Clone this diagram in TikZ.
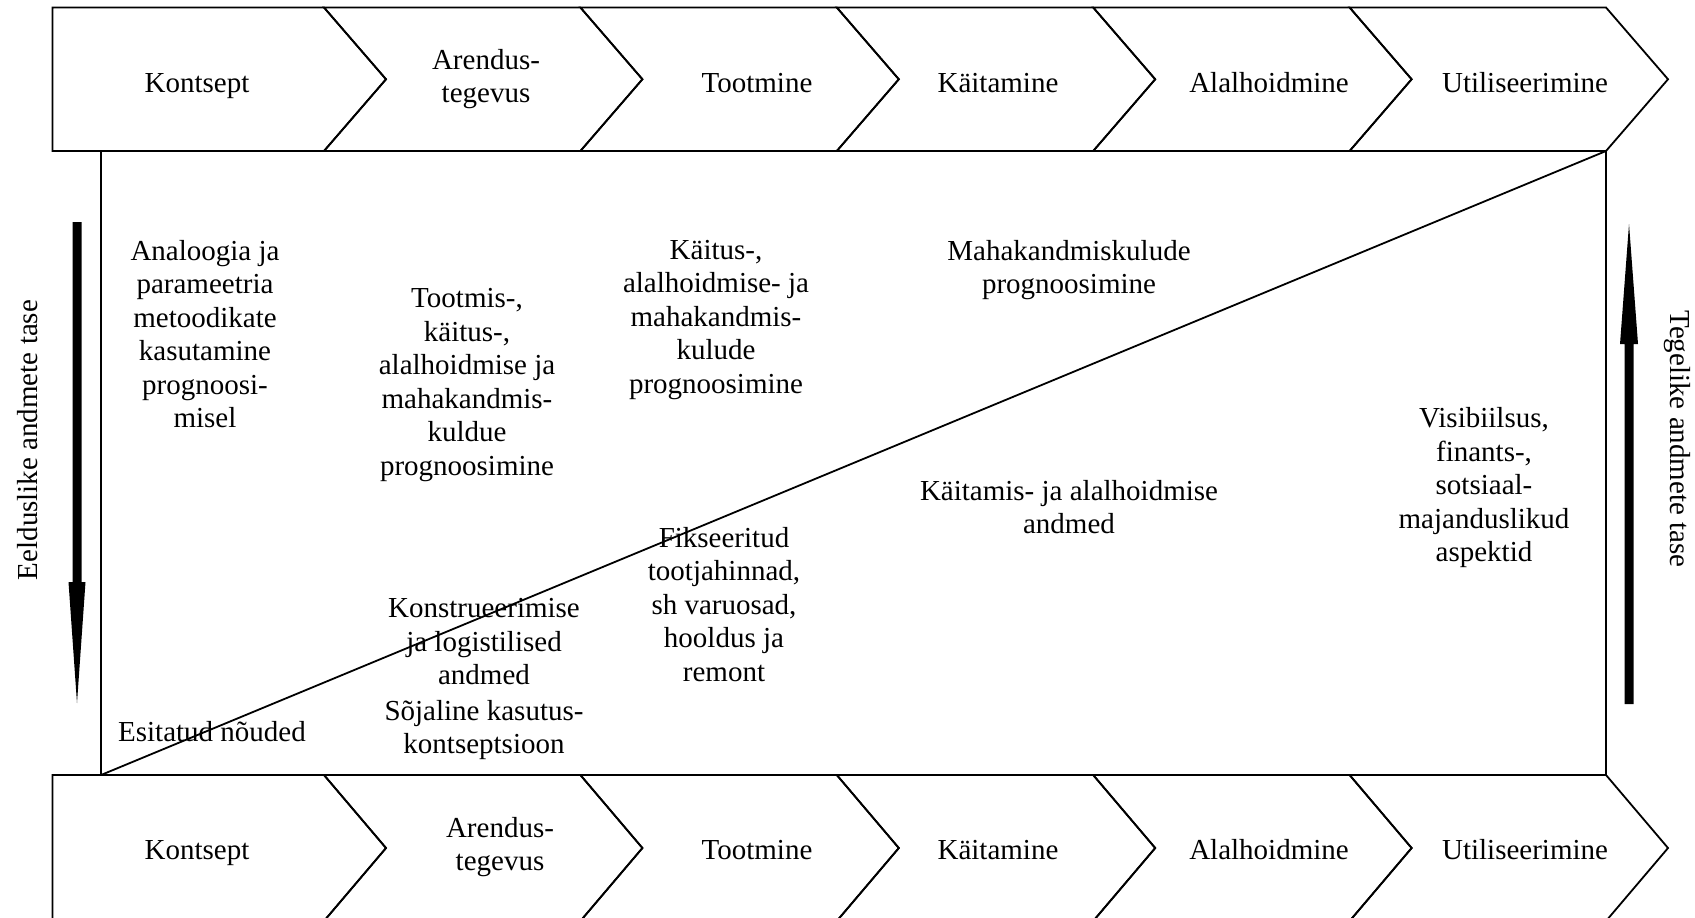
\documentclass[tikz,border=0pt]{standalone}
\usepackage{fontspec}
\setmainfont{Liberation Serif}
\begin{document}
\begin{tikzpicture}[x=0.5pt,y=-0.5pt,
  line width=0.9pt,
  txtfont/.style={font=\fontsize{14.5pt}{16.75pt}\selectfont},
  % text block placed by the baseline of its first line
  lbl/.style={txtfont, anchor=north, inner sep=0pt, align=center,
    yshift=11.725pt, execute at begin node=\strut},
  sidelbl/.style={txtfont, inner sep=0pt},
  fatarrow/.style={fill=black, draw=none}]

\useasboundingbox (0,0) rectangle (1695,917);
\clip (0,0) rectangle (1695,917);
\fill[white] (0,0) rectangle (1695,917);

% ---- phase chevrons, top and bottom rows ----
\foreach \T/\B in {7.5/151, 775/921}{
  \pgfmathsetmacro\M{(\T+\B)/2}
  \draw[line join=miter] (52.5,\T) -- (324,\T) -- (386,\M) -- (324,\B) -- (52.5,\B) -- cycle;
  \foreach \l/\r in {324/580.4, 580.4/836.8, 836.8/1093.2, 1093.2/1349.6, 1349.6/1606}
    \draw (\l,\T) -- (\r,\T) -- (\r+62,\M) -- (\r,\B) -- (\l,\B) -- (\l+62,\M) -- cycle;
}

% top row labels
\node[lbl] (t1) at (197,91.5) {Kontsept};
\node[lbl] (t2) at (486,71.5) {Arendus-\\tegevus};
\node[lbl] (t3) at (757,91.5) {Tootmine};
\node[lbl] (t4) at (998,91.5) {Käitamine};
\node[lbl] (t5) at (1269,91.5) {Alalhoidmine};
\node[lbl] (t6) at (1525,91.5) {Utiliseerimine};

% bottom row labels
\node[lbl] (b1) at (197,858.5) {Kontsept};
\node[lbl] (b2) at (500,839.5) {Arendus-\\tegevus};
\node[lbl] (b3) at (757,858.5) {Tootmine};
\node[lbl] (b4) at (998,858.5) {Käitamine};
\node[lbl] (b5) at (1269,858.5) {Alalhoidmine};
\node[lbl] (b6) at (1525,858.5) {Utiliseerimine};

% ---- central frame with diagonal ----
\coordinate (fsw) at (101,775);
\coordinate (fne) at (1606,151);
\draw (fsw) rectangle (fne);
\draw (fsw) -- (fne);

% upper (estimated data) texts
\node[lbl] (ana)  at (205,262.5) {Analoogia ja\\parameetria\\metoodikate\\kasutamine\\prognoosi-\\misel};
\node[lbl] (toot) at (467,311) {Tootmis-,\\käitus-,\\alalhoidmise ja\\mahakandmis-\\kuldue\\prognoosimine};
\node[lbl] (kait) at (716,262.5) {Käitus-,\\alalhoidmise- ja\\mahakandmis-\\kulude\\prognoosimine};
\node[lbl] (maha) at (1069,262.5) {Mahakandmiskulude\\prognoosimine};

% lower (actual data) texts
\node[lbl] (visi)  at (1484,430) {Visibiilsus,\\finants-,\\sotsiaal-\\majanduslikud\\aspektid};
\node[lbl] (kand)  at (1069,502.5) {Käitamis- ja alalhoidmise\\andmed};
\node[lbl] (fiks)  at (724,549.5) {Fikseeritud\\tootjahinnad,\\sh varuosad,\\hooldus ja\\remont};
\node[lbl] (konst) at (484,621) {Konstrueerimise\\ja logistilised\\andmed};
\node[lbl] (sojal) at (484,722.5) {Sõjaline kasutus-\\kontseptsioon};
\node[lbl] (esit)  at (212,740.5) {Esitatud nõuded};

% ---- side arrows ----
\fill[fatarrow] (72.5,222) -- (81.5,222) -- (81.5,582) -- (85.5,582) -- (77,703)
  -- (68.5,582) -- (72.5,582) -- cycle;
\fill[fatarrow] (1624.5,704) -- (1633.5,704) -- (1633.5,344) -- (1638,344) -- (1629,224)
  -- (1620,344) -- (1624.5,344) -- cycle;

\node[sidelbl, rotate=90]  (eeld) at (28,440) {Eelduslike andmete tase};
\node[sidelbl, rotate=-90] (tege) at (1677.5,439) {Tegelike andmete tase};
\end{tikzpicture}
\end{document}
